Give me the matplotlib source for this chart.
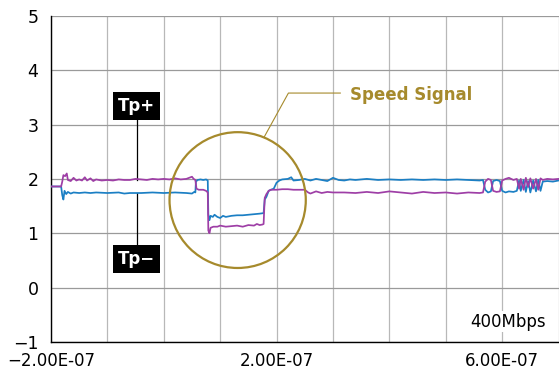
import matplotlib.pyplot as plt
import numpy as np
from matplotlib.patches import Ellipse
from matplotlib.ticker import MultipleLocator, FuncFormatter

# Time axis in ns, converted to seconds when plotted
t_plus = [-200, -182, -180, -178, -175, -172, -170, -165, -160, -155, -150, -145, -140,
          -136, -130, -125, -120, -110, -100, -90, -80, -70, -60, -50, -40, -30, -20,
          -10, 0, 10, 20, 30, 40, 45, 50, 53, 56, 58, 62, 70, 75, 78, 79, 81, 83, 88,
          95, 100, 110, 120, 130, 140, 150, 160, 165, 170, 175, 177, 179, 182, 186,
          190, 200, 210, 220, 230, 240, 250, 256, 260, 270, 280, 290, 300, 320, 340,
          360, 380, 400, 420, 440, 460, 480, 500, 520, 540, 560, 566, 570, 575, 580,
          584, 590, 596, 600, 606, 612, 620, 626, 630, 633, 638, 642, 646, 650, 655,
          660, 664, 668, 672, 680, 690, 700]
v_plus = [1.86, 1.86, 1.95, 2.07, 2.05, 2.10, 1.98, 1.96, 2.02, 1.97, 1.99, 1.97, 2.03,
          1.97, 2.01, 1.96, 1.99, 1.97, 1.98, 1.97, 1.99, 1.98, 1.98, 2.00, 1.99, 1.98,
          2.00, 1.99, 2.00, 1.99, 2.01, 1.99, 2.00, 2.02, 2.04, 2.00, 1.98, 1.82, 1.80,
          1.80, 1.78, 1.75, 1.05, 1.00, 1.10, 1.12, 1.12, 1.14, 1.12, 1.13, 1.14, 1.12,
          1.15, 1.14, 1.17, 1.15, 1.16, 1.17, 1.65, 1.72, 1.78, 1.80, 1.80, 1.81, 1.81,
          1.80, 1.80, 1.80, 1.75, 1.73, 1.77, 1.74, 1.76, 1.75, 1.75, 1.74, 1.76, 1.74,
          1.77, 1.75, 1.73, 1.76, 1.74, 1.75, 1.73, 1.75, 1.74, 1.75, 1.95, 2.00, 1.98,
          1.78, 1.76, 1.77, 1.97, 2.00, 2.02, 1.98, 2.00, 1.82, 2.00, 1.80, 2.02, 1.85,
          2.01, 1.82, 2.00, 1.80, 2.01, 1.98, 2.00, 1.99, 2.00]

t_minus = [-200, -182, -180, -178, -176, -173, -170, -165, -160, -150, -140, -130, -120,
           -100, -80, -70, -60, -40, -20, 0, 20, 40, 50, 54, 56, 57, 60, 65, 70, 75, 78,
           79, 81, 83, 87, 90, 95, 100, 105, 110, 120, 130, 140, 150, 160, 170, 177, 179,
           182, 186, 190, 195, 200, 205, 210, 220, 226, 230, 240, 250, 260, 270, 280,
           290, 300, 310, 320, 330, 340, 360, 380, 400, 420, 440, 460, 480, 500, 520,
           540, 560, 566, 570, 575, 580, 584, 590, 596, 600, 606, 612, 620, 626, 630,
           633, 638, 642, 646, 650, 655, 660, 664, 668, 672, 680, 690, 700]
v_minus = [1.86, 1.86, 1.70, 1.62, 1.78, 1.72, 1.76, 1.73, 1.75, 1.74, 1.75, 1.74, 1.75,
           1.74, 1.75, 1.73, 1.74, 1.74, 1.75, 1.74, 1.75, 1.74, 1.73, 1.76, 1.75, 1.95,
           1.98, 1.99, 1.98, 1.99, 1.97, 1.35, 1.24, 1.32, 1.30, 1.34, 1.30, 1.28, 1.32,
           1.30, 1.32, 1.33, 1.33, 1.34, 1.35, 1.36, 1.37, 1.62, 1.67, 1.78, 1.80, 1.82,
           1.93, 1.97, 1.99, 2.00, 2.03, 1.97, 1.98, 2.00, 1.97, 2.00, 1.98, 1.96, 2.02,
           1.98, 1.97, 1.99, 1.98, 2.00, 1.98, 1.99, 1.98, 1.99, 1.98, 1.99, 1.98, 1.99,
           1.98, 1.97, 1.98, 1.80, 1.75, 1.77, 1.96, 1.98, 1.96, 1.78, 1.75, 1.77, 1.76,
           1.78, 1.97, 1.78, 1.98, 1.76, 1.96, 1.75, 1.97, 1.77, 1.98, 1.78, 1.95, 1.96,
           1.95, 1.97]

x_ticks = [-2e-7, 2e-7, 6e-7]

blue = "#1b7fc4"
purple = "#9e3ea6"
gold = "#a68a2c"
ns = 1e-9

fig = plt.figure(figsize=(5.59, 3.79), dpi=100)
ax = fig.add_axes([0.0912, 0.098, 0.908, 0.86])

ax.plot(np.array(t_minus) * ns, v_minus, color=blue, lw=1.25, zorder=3)
ax.plot(np.array(t_plus) * ns, v_plus, color=purple, lw=1.25, zorder=3)

ax.set_xlim(-2e-7, 7e-7)
ax.set_ylim(-1, 5)
ax.set_xticks(x_ticks)
ax.xaxis.set_minor_locator(MultipleLocator(1e-7))
ax.yaxis.set_major_locator(MultipleLocator(1))
ax.xaxis.set_major_formatter(FuncFormatter(
    lambda x, p: f"{x:.2E}".replace("-", "\u2212", 1) if x < 0 else f"{x:.2E}"))
ax.grid(axis="x", which="both", color="#b8b8b8", lw=0.9)
ax.grid(axis="y", which="major", color="#9a9a9a", lw=0.9)
ax.set_axisbelow(True)
ax.tick_params(axis="both", which="both", length=0)
ax.tick_params(axis="y", labelsize=12.5, pad=9)
ax.tick_params(axis="x", labelsize=12, pad=7)
for s in ["top", "right"]:
    ax.spines[s].set_visible(False)
for s in ["left", "bottom"]:
    ax.spines[s].set_color("black")
    ax.spines[s].set_linewidth(1.0)

# highlighted speed transition
ax.add_patch(Ellipse((131 * ns, 1.61), 241.6 * ns, 2.50, fill=False,
                     edgecolor=gold, lw=1.6, zorder=4))
ax.plot(np.array([178, 221, 313]) * ns, [2.77, 3.58, 3.58], color=gold, lw=0.8, zorder=4)
ax.text(331 * ns, 3.55, "Speed Signal", color=gold, fontsize=12, fontweight="bold",
        va="center", ha="left")

# Tp+ / Tp- labels
ax.plot([-46.7 * ns] * 2, [3.10, 1.98], color="black", lw=0.9, zorder=2)
ax.plot([-46.7 * ns] * 2, [0.77, 1.74], color="black", lw=0.9, zorder=2)
for label, y in [("Tp+", 3.34), ("Tp\u2212", 0.53)]:
    ax.text(-49 * ns, y, label, color="white", fontsize=12, fontweight="bold",
            ha="center", va="center", zorder=5,
            bbox=dict(boxstyle="square,pad=0.3", fc="black", ec="none"))

ax.text(677 * ns, -0.63, "400Mbps", fontsize=12, ha="right", va="center", zorder=5,
        bbox=dict(boxstyle="square,pad=0.1", fc="white", ec="none"))

fig.savefig("out.png", dpi=100)
